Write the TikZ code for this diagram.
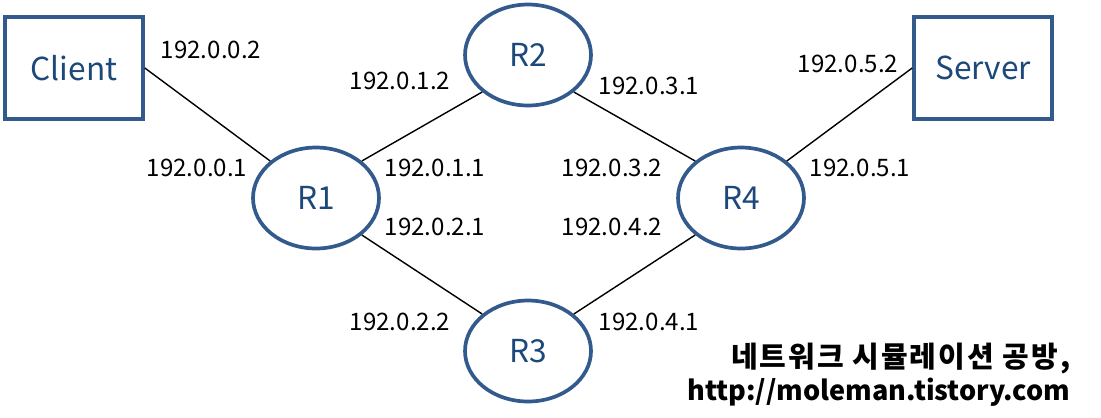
\documentclass[tikz,border=0pt]{standalone}
\usepackage{fontspec}
\setmainfont{Noto Sans CJK KR}
\usetikzlibrary{shapes}
\definecolor{nodeblue}{RGB}{50,90,140}
\definecolor{textblue}{RGB}{28,72,122}

\begin{document}
\begin{tikzpicture}[x=0.02cm, y=-0.02cm, line width=0.8pt]
\tikzstyle{rt}=[ellipse, draw=nodeblue, line width=2.1pt, text=textblue, minimum width=2.52cm, minimum height=2.02cm, inner sep=0pt, font=\fontsize{18}{20}\selectfont]
\tikzstyle{host}=[rectangle, draw=nodeblue, line width=2.1pt, text=textblue, minimum width=2.76cm, minimum height=2.04cm, inner sep=0pt, font=\fontsize{18}{20}\selectfont]
\tikzstyle{ip}=[inner sep=0pt, text=black, font=\fontsize{13.7}{16}\selectfont]
\useasboundingbox (0,0) rectangle (1101,417);
\node[host] (Client) at (74,68)  {Client};
\node[host] (Server) at (983,68) {Server};
\node[rt]   (R1)     at (316,198) {R1};
\node[rt]   (R2)     at (528,55)  {R2};
\node[rt]   (R3)     at (528,351) {R3};
\node[rt]   (R4)     at (741,198) {R4};
\node[ip] (c2)  at (211,50)  {192.0.0.2};
\node[ip] (c1)  at (197,168) {192.0.0.1};
\node[ip] (a12) at (400,81)  {192.0.1.2};
\node[ip] (a11) at (435,168) {192.0.1.1};
\node[ip] (a21) at (435,227) {192.0.2.1};
\node[ip] (a22) at (400,322) {192.0.2.2};
\node[ip] (a31) at (649,86)  {192.0.3.1};
\node[ip] (a32) at (612,168) {192.0.3.2};
\node[ip] (a42) at (612,227) {192.0.4.2};
\node[ip] (a41) at (649,322) {192.0.4.1};
\node[ip] (s2)  at (848,64)  {192.0.5.2};
\node[ip] (s1)  at (860,168) {192.0.5.1};
\node[anchor=north east, align=right, inner sep=0pt, font=\bfseries\fontsize{15.4}{19}\selectfont] (credit) at (1071,342)
  {{\fontsize{16.5}{19}\selectfont\addfontfeature{LetterSpace=7}네트워크 시뮬레이션 공방,}\\http://moleman.tistory.com};
\path
(Client.east)   edge (R1.north west)
(R1.north east) edge (R2.south west)
(R1.south east) edge (R3.north west)
(R2.south east) edge (R4.north west)
(R3.north east) edge (R4.south west)
(R4.north east) edge (Server.west);
\end{tikzpicture}
\end{document}
